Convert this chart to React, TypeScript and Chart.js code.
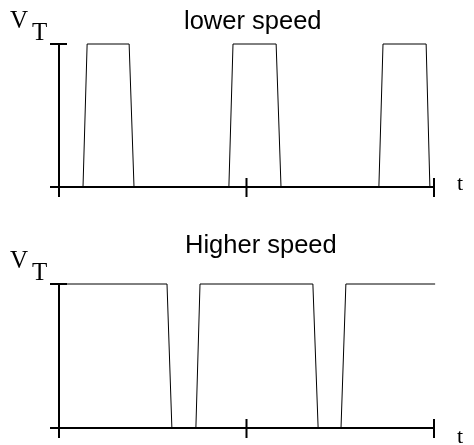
import React, { useEffect, useRef } from "react";
import { Chart, registerables } from "chart.js";

Chart.register(...registerables);

// Data
const topTitle = "lower speed";
const bottomTitle = "Higher speed";
const topTimes = [0, 0.64, 0.75, 1.87, 2.0, 4.53, 4.64, 5.79, 5.92, 8.53, 8.64, 9.79, 9.89, 10];
const topLevels = [0, 0, 1, 1, 0, 0, 1, 1, 0, 0, 1, 1, 0, 0];
const bottomTimes = [0, 2.88, 3.01, 3.65, 3.76, 6.77, 6.91, 7.52, 7.65, 10.03];
const bottomLevels = [1, 1, 0, 0, 1, 1, 0, 0, 1, 1];
const xTicks = [0, 5, 10];
const yLabel = "V";
const ySub = "T";
const xLabel = "t";

type PanelCfg = {
  times: number[];
  levels: number[];
  title: string;
  height: number;
  top: number;
  pad: { left: number; right: number; top: number; bottom: number };
  titleX: number;
  titleY: number;
  vY: number;
  tY: number;
  tLabelY: number;
};

function Panel({ cfg }: { cfg: PanelCfg }) {
  const ref = useRef<HTMLCanvasElement | null>(null);
  useEffect(() => {
    if (!ref.current) return;
    const pts = cfg.times.map((t, i) => ({ x: t, y: cfg.levels[i] }));
    const axesPlugin = {
      id: "axesPlugin",
      beforeDatasetsDraw(chart: any) {
        const ctx = chart.ctx;
        const xs = chart.scales.x;
        const ys = chart.scales.y;
        const y0 = ys.getPixelForValue(0);
        const y1 = ys.getPixelForValue(1);
        const x0 = xs.getPixelForValue(0);
        const xEnd = xs.getPixelForValue(10);
        ctx.save();
        ctx.strokeStyle = "#000";
        ctx.lineWidth = 2;
        ctx.lineCap = "butt";
        ctx.beginPath();
        // x axis
        ctx.moveTo(x0 - 9, y0);
        ctx.lineTo(xEnd, y0);
        // y axis
        ctx.moveTo(x0, y1);
        ctx.lineTo(x0, y0 + 10);
        // top tick of y axis
        ctx.moveTo(x0 - 9, y1);
        ctx.lineTo(x0 + 8, y1);
        // x ticks
        xTicks.forEach((t) => {
          if (t === 0) return;
          const px = xs.getPixelForValue(t);
          ctx.moveTo(px, y0 - 9);
          ctx.lineTo(px, y0 + 10);
        });
        ctx.stroke();
        ctx.restore();
      },
      afterDraw(chart: any) {
        const ctx = chart.ctx;
        ctx.save();
        ctx.fillStyle = "#000";
        ctx.textBaseline = "alphabetic";
        ctx.textAlign = "left";
        ctx.font = "25.5px 'Liberation Sans', Arial, sans-serif";
        ctx.fillText(cfg.title, cfg.titleX, cfg.titleY);
        ctx.font = "25px 'Liberation Serif', 'Times New Roman', serif";
        ctx.fillText(yLabel, 10, cfg.vY);
        ctx.fillText(ySub, 32, cfg.vY + 12);
        ctx.font = "22px 'Liberation Serif', 'Times New Roman', serif";
        ctx.fillText(xLabel, 457, cfg.tLabelY);
        ctx.restore();
      },
    };
    const chart = new Chart(ref.current, {
      type: "line",
      data: {
        datasets: [
          {
            data: pts,
            borderColor: "#000",
            borderWidth: 1,
            pointRadius: 0,
            tension: 0,
            fill: false,
            clip: false as any,
          },
        ],
      },
      options: {
        responsive: false,
        animation: false,
        layout: { padding: cfg.pad },
        plugins: { legend: { display: false }, tooltip: { enabled: false } },
        scales: {
          x: { type: "linear", min: 0, max: 10, display: false },
          y: { type: "linear", min: 0, max: 1, display: false },
        },
      },
      plugins: [axesPlugin],
    });
    return () => chart.destroy();
  }, [cfg]);
  return (
    <canvas
      ref={ref}
      width={474}
      height={cfg.height}
      style={{ position: "absolute", left: 0, top: cfg.top, width: 474, height: cfg.height }}
    />
  );
}

const topCfg: PanelCfg = {
  times: topTimes,
  levels: topLevels,
  title: topTitle,
  height: 222,
  top: 0,
  pad: { left: 59, right: 40, top: 44, bottom: 35 },
  titleX: 184,
  titleY: 29,
  vY: 28,
  tY: 40,
  tLabelY: 190,
};

const bottomCfg: PanelCfg = {
  times: bottomTimes,
  levels: bottomLevels,
  title: bottomTitle,
  height: 223,
  top: 222,
  pad: { left: 59, right: 40, top: 62, bottom: 17 },
  titleX: 185,
  titleY: 31,
  vY: 46,
  tY: 58,
  tLabelY: 221,
};

export default function App() {
  return (
    <div style={{ position: "fixed", left: 0, top: 0, width: 474, height: 445, background: "#fff" }}>
      <Panel cfg={topCfg} />
      <Panel cfg={bottomCfg} />
    </div>
  );
}
